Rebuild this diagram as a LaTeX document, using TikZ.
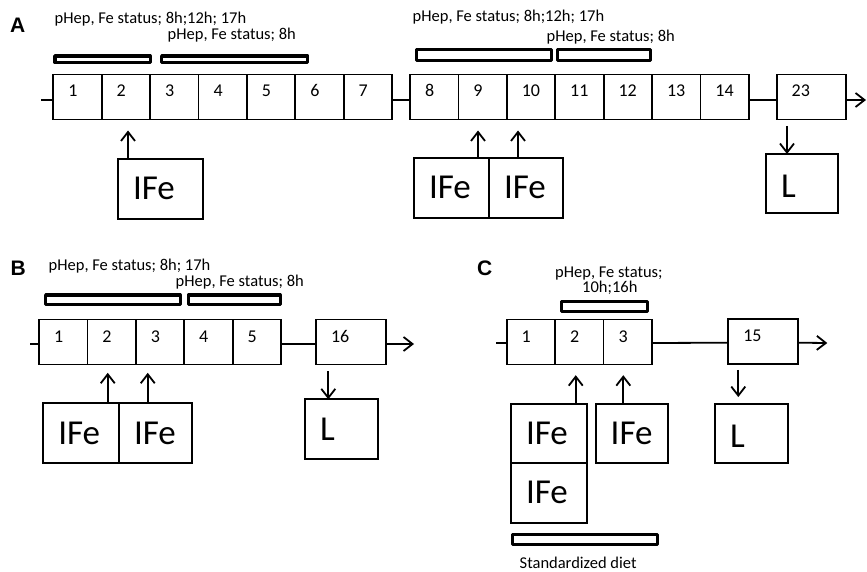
\documentclass[tikz,border=0pt]{standalone}
\usepackage{fontspec}
\setmainfont{Carlito}
\newfontfamily\panelfont{Liberation Sans}
\usetikzlibrary{arrows.meta,positioning}

\begin{document}
\begin{tikzpicture}[x=1pt,y=-1pt,
  % one day of the protocol
  day/.style={draw, line width=1.8pt, outer sep=0pt, inner ysep=0pt,
    inner xsep=15pt, minimum width=48.4pt, text width=18.4pt, align=left,
    minimum height=45pt, text height=9pt, text depth=9pt,
    font=\fontsize{18}{20}\selectfont},
  wideday/.style={day, minimum width=#1, text width=#1-30pt},
  % intervention boxes (IFe, L)
  event/.style={draw, line width=1.8pt, outer sep=0pt, inner ysep=0pt,
    inner xsep=15pt, align=left, text height=22pt, text depth=0pt,
    font=\fontsize{35}{38}\selectfont},
  lowtext/.style={text height=29pt},
  % sampling / diet periods
  period/.style={draw, line width=3.2pt, fill=white, outer sep=0pt,
    inner sep=0pt, line join=round},
  note/.style={inner sep=0pt, anchor=base west,
    font=\fontsize{16.5}{18}\selectfont},
  panel/.style={inner sep=0pt, anchor=base west,
    font=\panelfont\bfseries\fontsize{21}{24}\selectfont},
  link/.style={line width=1.8pt},
  arr/.style={line width=1.8pt, -{Straight Barb[length=9pt,width=14pt]}},
]
\useasboundingbox (0,0) rectangle (867,572);

%% ---------------- Panel A ----------------
\node[panel] (labA) at (10,33) {A};
\node[note] (tA1) at (54.5,24) {pHep, Fe status; 8h;12h; 17h};
\node[note] (tA2) at (167.5,39.5) {pHep, Fe status; 8h};
\node[note] (tA3) at (412.5,21.7) {pHep, Fe status; 8h;12h; 17h};
\node[note] (tA4) at (546.5,41.5) {pHep, Fe status; 8h};

\node[period, minimum width=95.2pt, minimum height=6.5pt] (bA1) at (102.5,59.2) {};
\node[period, minimum width=146.1pt, minimum height=6.5pt] (bA2) at (234.7,59.2) {};
\node[period, minimum width=134.5pt, minimum height=10.8pt] (bA3) at (483.9,55.3) {};
\node[period, minimum width=93.1pt, minimum height=10.8pt] (bA4) at (604.2,55.3) {};

\node[day, anchor=west] (a1) at (53.3,97) {1};
\node[day, right=0pt of a1] (a2) {2};
\node[day, right=0pt of a2] (a3) {3};
\node[day, right=0pt of a3] (a4) {4};
\node[day, right=0pt of a4] (a5) {5};
\node[day, right=0pt of a5] (a6) {6};
\node[day, right=0pt of a6] (a7) {7};
\node[day, anchor=west] (a8) at (410,97) {8};
\node[day, right=0pt of a8] (a9) {9};
\node[day, right=0pt of a9] (a10) {10};
\node[day, right=0pt of a10] (a11) {11};
\node[day, right=0pt of a11] (a12) {12};
\node[day, right=0pt of a12] (a13) {13};
\node[day, right=0pt of a13] (a14) {14};
\node[wideday=69.3pt, anchor=west] (a23) at (776.7,97) {23};

\coordinate (sA) at (41,100);
\coordinate (eA) at (866,100);
\draw[link] (sA) -- (sA -| a1.west);
\draw[link] ([yshift=-3pt]a7.east) -- ([yshift=-3pt]a8.west);
\draw[link] ([yshift=-3pt]a14.east) -- ([yshift=-3pt]a23.west);
\draw[arr] ([yshift=-3pt]a23.east) -- (eA);

\node[event, minimum width=85pt, text width=55pt, minimum height=60pt] (ifeA1) at (160.5,189) {IFe};
\node[event, minimum width=75pt, text width=45pt, minimum height=60pt] (ifeA2) at (451.5,188) {IFe};
\node[event, minimum width=74pt, text width=44pt, minimum height=60pt, right=0pt of ifeA2] (ifeA3) {IFe};
\node[event, lowtext, minimum width=72pt, text width=42pt, minimum height=59pt] (lA) at (802,183.5) {L};

\coordinate (pA1) at ([xshift=10pt]ifeA1.north west);
\coordinate (pA2) at ([xshift=64pt]ifeA2.north west);
\coordinate (pA3) at ([xshift=29pt]ifeA3.north west);
\coordinate (qA) at ([xshift=10.3pt]a23.south west);
\draw[arr, shorten >=11pt] (pA1) -- (pA1 |- a2.south);
\draw[arr, shorten >=11pt] (pA2) -- (pA2 |- a9.south);
\draw[arr, shorten >=11pt] (pA3) -- (pA3 |- a10.south);
\draw[arr, shorten <=6.5pt] (qA) -- (qA |- lA.north);

%% ---------------- Panel B ----------------
\node[panel] (labB) at (10.5,275) {B};
\node[note] (tB1) at (48.5,270) {pHep, Fe status; 8h; 17h};
\node[note] (tB2) at (175.5,286) {pHep, Fe status; 8h};

\node[period, minimum width=134.5pt, minimum height=9.5pt] (bB1) at (112.9,299.7) {};
\node[period, minimum width=91.8pt, minimum height=9.5pt] (bB2) at (234.2,299.7) {};

\node[day, anchor=west] (b1) at (39,342) {1};
\node[day, right=0pt of b1] (b2) {2};
\node[day, right=0pt of b2] (b3) {3};
\node[day, right=0pt of b3] (b4) {4};
\node[day, right=0pt of b4] (b5) {5};
\node[wideday=70pt, anchor=west] (b16) at (316,342) {16};

\coordinate (sB) at (30,344);
\coordinate (eB) at (414,344);
\draw[link] (sB) -- (sB -| b1.west);
\draw[link] ([yshift=-2pt]b5.east) -- ([yshift=-2pt]b16.west);
\draw[arr] ([yshift=-2pt]b16.east) -- (eB);

\node[event, minimum width=75.7pt, text width=45.7pt, minimum height=59.4pt] (ifeB1) at (81.2,433) {IFe};
\node[event, minimum width=72.7pt, text width=42.7pt, minimum height=59.4pt, right=0pt of ifeB1] (ifeB2) {IFe};
\node[event, minimum width=73.3pt, text width=43.3pt, minimum height=59.4pt] (lB) at (341.7,429) {L};

\coordinate (pB1) at ([xshift=64.4pt]ifeB1.north west);
\coordinate (pB2) at ([xshift=28.7pt]ifeB2.north west);
\coordinate (qB) at ([xshift=12.3pt]b16.south west);
\draw[arr, shorten >=8.3pt] (pB1) -- (pB1 |- b2.south);
\draw[arr, shorten >=8.3pt] (pB2) -- (pB2 |- b3.south);
\draw[arr, shorten <=6.7pt] (qB) -- (qB |- lB.north);

%% ---------------- Panel C ----------------
\node[panel] (labC) at (477,275) {C};
\node[note] (tC1) at (555,277.7) {pHep, Fe status;};
\node[note] (tC2) at (582,292.7) {10h;16h};

\node[period, minimum width=85.8pt, minimum height=9.8pt] (bC1) at (604.5,306.5) {};

\node[day, anchor=west] (c1) at (506.7,342) {1};
\node[day, right=0pt of c1] (c2) {2};
\node[day, right=0pt of c2] (c3) {3};
\node[wideday=69.4pt, anchor=west] (c15) at (728.3,341.7) {15};

\coordinate (sC) at (496,343);
\coordinate (eC) at (827.3,343);
\draw[link] (sC) -- (sC -| c1.west);
\draw[link] ([yshift=-1pt]c3.east) -- ([yshift=-1pt]c15.west);
\draw[arr] ([yshift=-1pt]c15.east) -- (eC);

\node[event, minimum width=75.7pt, text width=45.7pt, minimum height=58.7pt] (ifeC1) at (548.9,433.4) {IFe};
\node[event, minimum width=75.7pt, text width=45.7pt, minimum height=60pt, below=0pt of ifeC1] (ifeC2) {IFe};
\node[event, minimum width=72pt, text width=42pt, minimum height=58.7pt] (ifeC3) at (631.7,433.4) {IFe};
\node[event, lowtext, minimum width=73.3pt, text width=43.3pt, minimum height=58.7pt] (lC) at (751.7,433.4) {L};

\coordinate (pC1) at ([xshift=64.7pt]ifeC1.north west);
\coordinate (pC2) at ([xshift=27.6pt]ifeC3.north west);
\coordinate (qC) at ([xshift=10pt]c15.south west);
\draw[arr, shorten >=10.7pt] (pC1) -- (pC1 |- c2.south);
\draw[arr, shorten >=10.7pt] (pC2) -- (pC2 |- c3.south);
\draw[arr, shorten <=5.7pt, shorten >=7pt] (qC) -- (qC |- lC.north);

\node[period, minimum width=145.1pt, minimum height=10.1pt] (diet) at (585.2,539.4) {};
\node[note] (tDiet) at (519.5,568) {Standardized diet};

\end{tikzpicture}
\end{document}
